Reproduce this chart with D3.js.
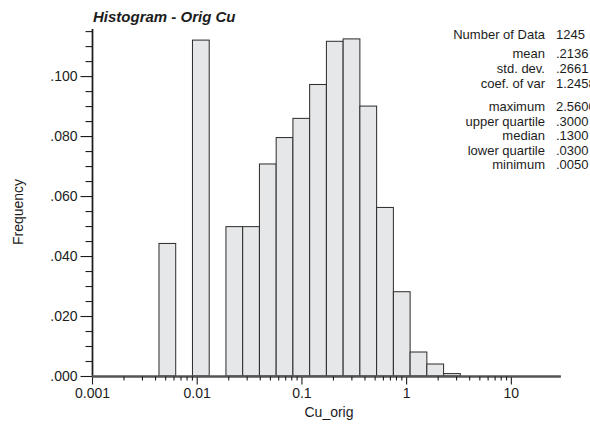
<!DOCTYPE html>
<html><head><meta charset="utf-8">
<script src="https://cdn.jsdelivr.net/npm/d3@7"></script>
<style>
body{margin:0;background:#fff;}
svg{display:block;font-family:"Liberation Sans",Arial,Helvetica,sans-serif;}
</style></head>
<body>
<script>
// ---- data ----
const xMin = 0.001, xMax = 30, nClasses = 28;
const freq = [0,0,0,0,0.0442,0,0.1120,0,0.0498,0.0498,0.0707,0.0795,0.0859,0.0972,
  0.1116,0.1124,0.0900,0.0562,0.0281,0.0080,0.0040,0.0008,0,0,0,0,0,0];
const yMajorTicks = [0,0.02,0.04,0.06,0.08,0.10];
const yMinorTicks = [0.005,0.01,0.015,0.025,0.03,0.035,0.045,0.05,0.055,0.065,0.07,0.075,0.085,0.09,0.095,0.105,0.11,0.115];
const xMajorTicks = [0.001,0.01,0.1,1,10];
const xMajorLabels = ["0.001","0.01","0.1","1","10"];
const xMinorTicks = [0.002,0.003,0.004,0.005,0.006,0.007,0.008,0.009,0.02,0.03,0.04,0.05,0.06,0.07,0.08,0.09,
  0.2,0.3,0.4,0.5,0.6,0.7,0.8,0.9,2,3,4,5,6,7,8,9];
const statLabels = ["Number of Data","mean","std. dev.","coef. of var","maximum","upper quartile","median","lower quartile","minimum"];
const statValues = ["1245",".2136",".2661","1.2458","2.5600",".3000",".1300",".0300",".0050"];
const title = "Histogram - Orig Cu";
const xTitle = "Cu_orig", yTitle = "Frequency";

// ---- layout ----
const W = 590, H = 433;
const svg = d3.select("body").append("svg").attr("width", W).attr("height", H);
const x = d3.scaleLog().domain([xMin, xMax]).range([92, 560.8]);
const y = d3.scaleLinear().domain([0, 0.1157]).range([376, 29]);
const ink = "#1c1c1c";

// bins (log-spaced class edges)
const lmin = Math.log10(xMin), lw = (Math.log10(xMax) - lmin) / nClasses;
const bins = freq.map((f, i) => ({lo: Math.pow(10, lmin + i*lw), hi: Math.pow(10, lmin + (i+1)*lw), f}));

svg.append("g").selectAll("rect").data(bins.filter(d => d.f > 0)).join("rect")
  .attr("x", d => x(d.lo)).attr("width", d => x(d.hi) - x(d.lo))
  .attr("y", d => y(d.f)).attr("height", d => y(0) - y(d.f))
  .attr("fill", "#e6e7e9").attr("stroke", "#2a2a2a").attr("stroke-width", 1);

// y axis
const yAx = svg.append("g").attr("transform", "translate(92.5,0)");
yAx.call(d3.axisLeft(y).tickValues(yMajorTicks).tickSize(12).tickPadding(3)
  .tickFormat(d => d3.format(".3f")(d).replace(/^0/, "")));
yAx.append("g").call(d3.axisLeft(y).tickValues(yMinorTicks).tickSize(7).tickFormat(""));
yAx.selectAll(".domain").attr("stroke", ink).attr("stroke-width", 1.4);
yAx.selectAll(".tick line").attr("stroke", ink).attr("stroke-width", 1.1);
yAx.selectAll("text").attr("font-size", 14).attr("fill", ink).attr("font-family", "Liberation Sans, Arial, sans-serif");
yAx.selectAll(".domain").attr("d", `M0,${y(0.1157)}V${y(0)}`);

// x axis
const xAx = svg.append("g").attr("transform", "translate(0,376.5)");
xAx.call(d3.axisBottom(x).tickValues(xMajorTicks).tickSize(8).tickPadding(4)
  .tickFormat((d, i) => xMajorLabels[i]));
xAx.append("g").call(d3.axisBottom(x).tickValues(xMinorTicks).tickSize(4).tickFormat(""));
xAx.selectAll(".domain").attr("stroke", "#555").attr("stroke-width", 1.8).attr("d", `M${x(xMin)},0H${x(xMax)}`);
xAx.selectAll(".tick line").attr("stroke", ink).attr("stroke-width", 1.1);
xAx.selectAll("text").attr("font-size", 14).attr("fill", ink).attr("font-family", "Liberation Sans, Arial, sans-serif");

// titles
svg.append("text").attr("x", 93).attr("y", 22).attr("font-size", 15)
  .attr("font-weight", "bold").attr("font-style", "italic").attr("fill", ink).text(title);
svg.append("text").attr("x", 329).attr("y", 417).attr("text-anchor", "middle")
  .attr("font-size", 14).attr("fill", ink).text(xTitle);
svg.append("text").attr("transform", "translate(23,212) rotate(-90)").attr("text-anchor", "middle")
  .attr("font-size", 14).attr("fill", ink).text(yTitle);

// statistics
const statY = [39, 58, 73, 88, 111, 126, 140, 155, 169];
const sg = svg.append("g").attr("font-size", 13).attr("fill", ink);
sg.selectAll("text.l").data(statLabels).join("text").attr("class", "l")
  .attr("x", 545).attr("y", (d, i) => statY[i]).attr("text-anchor", "end").text(d => d);
sg.selectAll("text.v").data(statValues).join("text").attr("class", "v")
  .attr("x", 556).attr("y", (d, i) => statY[i]).text(d => d);
</script>
</body></html>
